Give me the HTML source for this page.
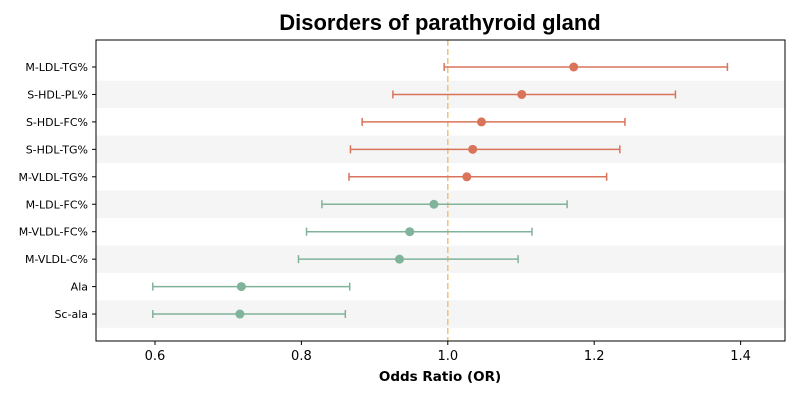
<!DOCTYPE html>
<html><head><meta charset="utf-8"><style>
body{margin:0;background:#fff;}
svg{display:block;font-family:"DejaVu Sans",sans-serif;}
</style></head><body>
<svg id="chart" width="800" height="400"></svg>
<script>
const categories=["M-LDL-TG%","S-HDL-PL%","S-HDL-FC%","S-HDL-TG%","M-VLDL-TG%","M-LDL-FC%","M-VLDL-FC%","M-VLDL-C%","Ala","Sc-ala"];
const orValues=[1.172,1.101,1.046,1.034,1.026,0.981,0.948,0.934,0.718,0.716];
const lowerCI=[0.995,0.925,0.883,0.867,0.865,0.828,0.807,0.796,0.597,0.597];
const upperCI=[1.382,1.311,1.242,1.235,1.217,1.163,1.115,1.096,0.866,0.860];
const xTicks=[0.6,0.8,1.0,1.2,1.4];
const xTickLabels=["0.6","0.8","1.0","1.2","1.4"];

const NS="http://www.w3.org/2000/svg";
const svg=document.getElementById('chart');
const L=96,R=785,T=40,B=341;
const x=v=>155+(v-0.6)*732;
const step=27.45;
const y=i=>67+i*step;
function el(t,a,p){const e=document.createElementNS(NS,t);for(const k in a)e.setAttribute(k,a[k]);(p||svg).appendChild(e);return e;}

categories.forEach((c,i)=>{
  if(i%2===1){
    const b=el('rect',{x:L,y:y(i)-step/2,width:R-L,height:step,fill:'#f5f5f5'});
    
    
  }
});
const ref=el('line',{x1:x(1),x2:x(1),y1:T,y2:B,stroke:'#f0c27a','stroke-width':1.5,'stroke-dasharray':'6,3'});



categories.forEach((c,i)=>{
  const col=orValues[i]>1?'#d9745a':'#7fb39a';
  const g=el('g',{});
  
  
  const yy=y(i);
  el('line',{x1:x(lowerCI[i]),x2:x(upperCI[i]),y1:yy,y2:yy,stroke:col,'stroke-width':1.5},g);
  el('line',{x1:x(lowerCI[i]),x2:x(lowerCI[i]),y1:yy-4,y2:yy+4,stroke:col,'stroke-width':1.5},g);
  el('line',{x1:x(upperCI[i]),x2:x(upperCI[i]),y1:yy-4,y2:yy+4,stroke:col,'stroke-width':1.5},g);
  el('circle',{cx:x(orValues[i]),cy:yy,r:4.5,fill:col},g);
  el('line',{x1:L-4,x2:L,y1:yy,y2:yy,stroke:'#000'});
  const t=el('text',{x:L-8,y:yy+4,'text-anchor':'end','font-size':11,fill:'#000'});
  t.textContent=c;
  
  
});

const ax=el('rect',{x:L,y:T,width:R-L,height:B-T,fill:'none',stroke:'#000','stroke-width':1});



xTicks.forEach((v,i)=>{
  el('line',{x1:x(v),x2:x(v),y1:B,y2:B+4,stroke:'#000'});
  const t=el('text',{x:x(v),y:B+19,'text-anchor':'middle','font-size':13,fill:'#000'});
  t.textContent=xTickLabels[i];
  
  
});
const xt=el('text',{x:440,y:381,'text-anchor':'middle','font-size':13.5,'font-weight':'bold'});
xt.textContent='Odds Ratio (OR)';


const tt=el('text',{x:440,y:30,'text-anchor':'middle','font-size':22,'font-weight':'bold','font-family':'Liberation Sans, sans-serif'});
tt.textContent='Disorders of parathyroid gland';


</script>
</body></html>
